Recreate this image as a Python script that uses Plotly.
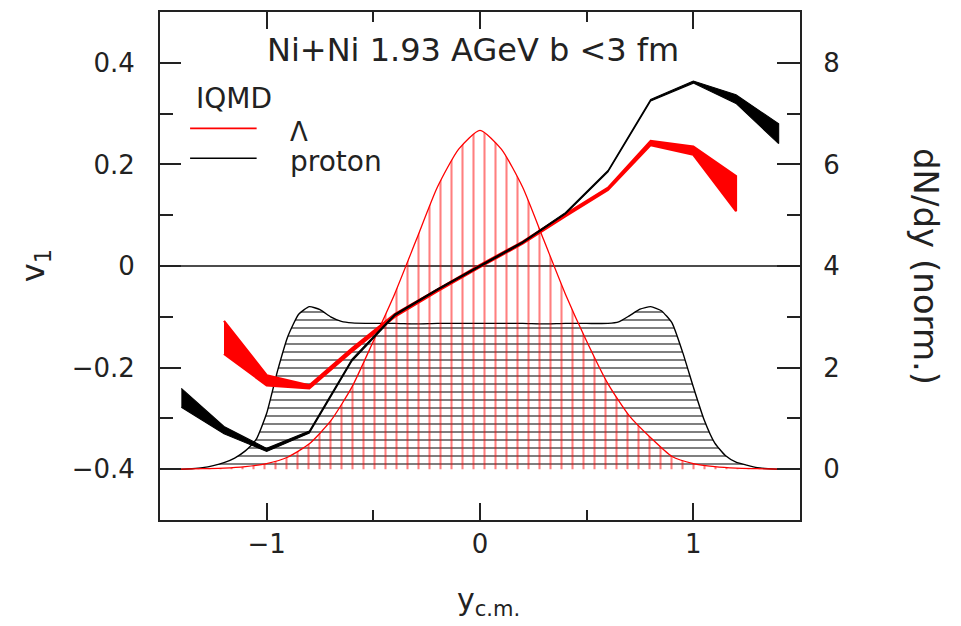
import plotly.graph_objects as go

# ---- directed flow v1 vs rapidity (IQMD), error bands as upper/lower edges ----
y_proton = [-1.4, -1.2, -1.0, -0.8, -0.6, -0.4, -0.2, 0.0, 0.2, 0.4, 0.6, 0.8, 1.0, 1.2, 1.4]
v1_proton_hi = [-0.241, -0.316, -0.359, -0.325, -0.183, -0.095, -0.045, 0.001, 0.048, 0.105, 0.188, 0.328, 0.364, 0.337, 0.280]
v1_proton_lo = [-0.278, -0.330, -0.365, -0.329, -0.187, -0.098, -0.048, -0.002, 0.045, 0.102, 0.185, 0.325, 0.360, 0.320, 0.241]

y_lambda = [-1.2, -1.0, -0.8, -0.6, -0.4, -0.2, 0.0, 0.2, 0.4, 0.6, 0.8, 1.0, 1.2]
v1_lambda_hi = [-0.108, -0.215, -0.235, -0.162, -0.095, -0.046, 0.002, 0.048, 0.102, 0.154, 0.246, 0.235, 0.177]
v1_lambda_lo = [-0.173, -0.235, -0.241, -0.168, -0.100, -0.050, -0.002, 0.044, 0.098, 0.150, 0.238, 0.219, 0.108]

# ---- rapidity distributions dN/dy (normalised) ----
y_dn_proton = [-1.5, -1.4, -1.35, -1.3, -1.25, -1.2, -1.15, -1.1, -1.05, -1.0, -0.95, -0.9,
               -0.85, -0.8, -0.75, -0.7, -0.65, -0.6, -0.5, -0.4, -0.3, -0.2, -0.1, 0.0,
               0.1, 0.2, 0.3, 0.4, 0.5, 0.6, 0.65, 0.7, 0.75, 0.8, 0.85, 0.9, 0.95, 1.0,
               1.05, 1.1, 1.15, 1.2, 1.25, 1.3, 1.35, 1.4, 1.5]
dn_proton = [0.0, 0.0, 0.01, 0.03, 0.07, 0.13, 0.22, 0.36, 0.58, 1.10, 1.92, 2.62,
             3.05, 3.20, 3.14, 3.00, 2.91, 2.88, 2.87, 2.87, 2.86, 2.87, 2.87, 2.87,
             2.87, 2.87, 2.86, 2.87, 2.87, 2.87, 2.90, 3.02, 3.15, 3.20, 3.12, 2.88, 2.30, 1.62,
             0.98, 0.52, 0.27, 0.14, 0.08, 0.03, 0.01, 0.0, 0.0]

y_dn_lambda = [-1.5, -1.4, -1.3, -1.2, -1.1, -1.0, -0.9, -0.8, -0.7, -0.6, -0.5, -0.4, -0.3,
               -0.2, -0.1, 0.0, 0.1, 0.2, 0.3, 0.4, 0.5, 0.6, 0.7, 0.8, 0.9, 1.0, 1.1,
               1.2, 1.3, 1.4, 1.5]
dn_lambda = [0.0, 0.0, 0.01, 0.02, 0.05, 0.11, 0.24, 0.50, 0.95, 1.62, 2.52, 3.45, 4.50,
             5.55, 6.30, 6.67, 6.30, 5.55, 4.50, 3.45, 2.52, 1.68, 1.05, 0.62, 0.25, 0.11, 0.05,
             0.02, 0.01, 0.0, 0.0]

RED = "#ff0000"
BLACK = "#000000"
TXT = "#222222"
AX = "#222222"
FONT = "DejaVu Sans"

fig = go.Figure()

# hatched rapidity distributions (base axis "y" = dN/dy, right side)
fig.add_trace(go.Scatter(
    x=y_dn_proton, y=dn_proton, yaxis="y", mode="lines",
    line=dict(color=BLACK, width=1.4, shape="spline", smoothing=0.5),
    fill="tozeroy",
    fillpattern=dict(shape="-", size=8, solidity=0.25, fgcolor=BLACK, bgcolor="rgba(0,0,0,0)"),
    showlegend=False, hoverinfo="skip"))
fig.add_trace(go.Scatter(
    x=y_dn_lambda, y=dn_lambda, yaxis="y", mode="lines",
    line=dict(color=RED, width=1.3, shape="spline", smoothing=0.6),
    fill="tozeroy",
    fillpattern=dict(shape="|", size=11, solidity=0.19, fgcolor=RED, bgcolor="rgba(0,0,0,0)"),
    showlegend=False, hoverinfo="skip"))


def band(xs, hi, lo, color, width):
    return go.Scatter(
        x=list(xs) + list(xs)[::-1], y=list(hi) + list(lo)[::-1],
        yaxis="y2", mode="lines", fill="toself", fillcolor=color,
        line=dict(color=color, width=width), showlegend=False, hoverinfo="skip")


# v1 bands on the overlaid left axis "y2"
fig.add_trace(band(y_lambda, v1_lambda_hi, v1_lambda_lo, RED, 2.2))
fig.add_trace(band(y_proton, v1_proton_hi, v1_proton_lo, BLACK, 1.1))

tickfont = dict(family=FONT, size=26, color=TXT)
fig.update_layout(
    width=961, height=626,
    margin=dict(l=160, r=161, t=10, b=106),
    paper_bgcolor="white", plot_bgcolor="white",
    font=dict(family=FONT, color=TXT),
    xaxis=dict(range=[-1.5, 1.5], tick0=0, dtick=1, ticks="inside", ticklen=17, tickwidth=1.8,
               tickcolor=AX, showline=True, linecolor=AX, linewidth=2, mirror="ticks",
               showgrid=False, zeroline=False, tickfont=tickfont,
               minor=dict(dtick=0.5, ticks="inside", ticklen=10, tickwidth=1.8, tickcolor=AX)),
    yaxis=dict(range=[-1, 9], tick0=0, dtick=2, side="right",
               ticks="inside", ticklen=23, tickwidth=1.8, tickcolor=AX,
               showline=True, linecolor=AX, linewidth=2, showgrid=False, zeroline=False,
               tickfont=tickfont, ticklabelstandoff=16,
               minor=dict(dtick=1, ticks="inside", ticklen=13, tickwidth=1.8, tickcolor=AX)),
    yaxis2=dict(range=[-0.5, 0.5], tick0=0, dtick=0.2, overlaying="y", side="left", anchor="x",
                ticks="inside", ticklen=21, tickwidth=1.8,
                tickcolor=AX, showline=True, linecolor=AX, linewidth=2,
                showgrid=False, zeroline=False,
                tickfont=tickfont, ticklabelstandoff=18,
                minor=dict(dtick=0.1, ticks="inside", ticklen=13, tickwidth=1.8, tickcolor=AX)),
    showlegend=False,
)

# v1 = 0 reference line
fig.add_hline(y=0, yref="y2", line=dict(color="#111", width=1.6), layer="below")

# legend key lines
fig.add_shape(type="line", xref="paper", yref="paper", x0=0.047, x1=0.151, y0=0.771, y1=0.771,
              line=dict(color=RED, width=1.6))
fig.add_shape(type="line", xref="paper", yref="paper", x0=0.047, x1=0.151, y0=0.712, y1=0.712,
              line=dict(color=BLACK, width=1.4))

ann = [
    dict(text="Ni+Ni 1.93 AGeV b <3 fm", x=0.489, y=0.925, size=32, xanchor="center"),
    dict(text="IQMD", x=0.053, y=0.829, size=28, xanchor="left"),
    dict(text="Λ", x=0.200, y=0.763, size=26, xanchor="left"),
    dict(text="proton", x=0.200, y=0.705, size=28, xanchor="left"),
]
for a in ann:
    fig.add_annotation(text=a["text"], x=a["x"], y=a["y"], xref="paper", yref="paper",
                       xanchor=a["xanchor"], yanchor="middle", showarrow=False,
                       font=dict(family=FONT, size=a["size"], color=TXT))

# axis titles
fig.add_annotation(text="v<sub>1</sub>", x=-0.195, y=0.5, xref="paper", yref="paper",
                   textangle=-90, showarrow=False, xanchor="center", yanchor="middle",
                   font=dict(family=FONT, size=32, color=TXT))
fig.add_annotation(text="y<sub>c.m.</sub>", x=0.513, y=-0.16, xref="paper", yref="paper",
                   showarrow=False, xanchor="center", yanchor="middle",
                   font=dict(family=FONT, size=30, color=TXT))
fig.add_annotation(text="dN/dy (norm.)", x=1.197, y=0.5, xref="paper", yref="paper",
                   textangle=90, showarrow=False, xanchor="center", yanchor="middle",
                   font=dict(family=FONT, size=34, color=TXT))

fig.write_html("out.html")
